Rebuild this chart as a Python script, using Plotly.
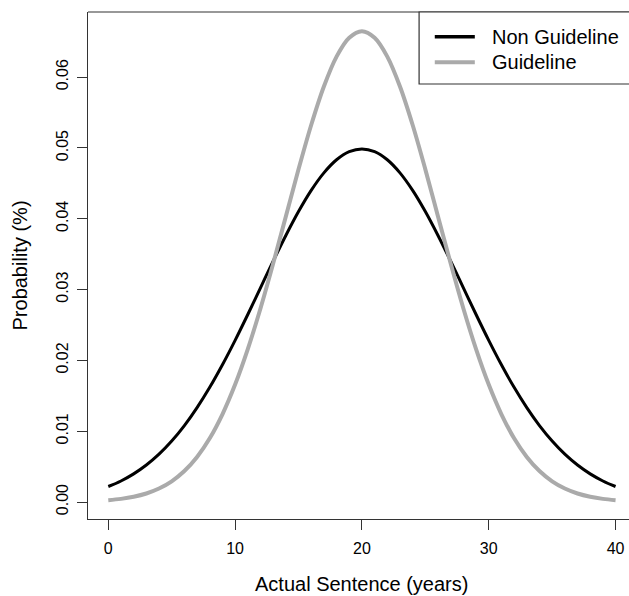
import plotly.graph_objects as go

# Actual sentence (years)
years = list(range(0, 41))

# Probability, Non Guideline (black)
non_guideline_half = [0.00219, 0.00297, 0.00397, 0.00522, 0.00675, 0.00860, 0.01078,
                      0.01332, 0.01619, 0.01938, 0.02283, 0.02648, 0.03025, 0.03401,
                      0.03764, 0.04102, 0.04401, 0.04648, 0.04833, 0.04948, 0.04987]
non_guideline = non_guideline_half + non_guideline_half[-2::-1]

# Probability, Guideline (gray)
guideline_half = [0.00026, 0.00044, 0.00074, 0.00120, 0.00190, 0.00292, 0.00437,
                  0.00636, 0.00900, 0.01239, 0.01658, 0.02159, 0.02733, 0.03367,
                  0.04033, 0.04698, 0.05324, 0.05868, 0.06290, 0.06557, 0.06649]
guideline = guideline_half + guideline_half[-2::-1]

x_ticks = [0, 10, 20, 30, 40]
y_ticks = [0.00, 0.01, 0.02, 0.03, 0.04, 0.05, 0.06]
y_tick_labels = ["0.00", "0.01", "0.02", "0.03", "0.04", "0.05", "0.06"]

series_names = ["Non Guideline", "Guideline"]
black = "#000000"
gray = "#aaaaaa"

FONT = "Liberation Sans, Arial, sans-serif"

fig = go.Figure()
fig.add_trace(go.Scatter(x=years, y=non_guideline, mode="lines", name=series_names[0],
                         line=dict(color=black, width=3, shape="spline")))
fig.add_trace(go.Scatter(x=years, y=guideline, mode="lines", name=series_names[1],
                         line=dict(color=gray, width=4, shape="spline")))

fig.update_layout(
    width=629, height=596,
    margin=dict(l=88, r=0, t=12, b=77),
    paper_bgcolor="white", plot_bgcolor="white",
    showlegend=False,
    font=dict(family=FONT, color="black"),
    xaxis=dict(range=[-1.6, 41.06], tickvals=x_ticks, ticks="outside", ticklen=10,
               ticklabelstandoff=5,
               tickcolor="#333", tickwidth=1.2, showline=True, linecolor="#333", linewidth=1.2,
               showgrid=False, zeroline=False, tickfont=dict(size=16, family=FONT)),
    yaxis=dict(range=[-0.0024, 0.0692], tickvals=y_ticks, ticktext=y_tick_labels,
               ticks="outside", ticklen=10, tickangle=-90, ticklabelstandoff=3,
               tickcolor="#333", tickwidth=1.2, showline=True, linecolor="#333", linewidth=1.2,
               showgrid=False, zeroline=False, tickfont=dict(size=16, family=FONT)),
)

# top border of the plot box (right side is cropped in the reference)
fig.add_shape(type="line", xref="paper", yref="paper", x0=0, x1=1, y0=1, y1=1,
              line=dict(color="#333", width=1.2))

# legend box
fig.add_shape(type="rect", xref="paper", yref="paper", x0=0.612, x1=1.05, y0=0.858, y1=1,
              line=dict(color="#333", width=1.2), fillcolor="white")
legend_y = [0.951, 0.901]
legend_colors = [black, gray]
legend_widths = [3.5, 4]
for name, yy, c, w in zip(series_names, legend_y, legend_colors, legend_widths):
    fig.add_shape(type="line", xref="paper", yref="paper", x0=0.641, x1=0.715, y0=yy, y1=yy,
                  line=dict(color=c, width=w))
    fig.add_annotation(xref="paper", yref="paper", x=0.743, y=yy, text=name, showarrow=False,
                       xanchor="left", yanchor="middle", font=dict(size=20, family=FONT))

# axis titles
fig.add_annotation(xref="x", yref="paper", x=20, y=-0.128, text="Actual Sentence (years)",
                   showarrow=False, xanchor="center", yanchor="middle",
                   font=dict(size=20, family=FONT))
fig.add_annotation(xref="paper", yref="paper", x=-0.1257, y=0.5, text="Probability (%)",
                   showarrow=False, xanchor="center", yanchor="middle", textangle=-90,
                   font=dict(size=20, family=FONT))

fig.write_html("out.html")
